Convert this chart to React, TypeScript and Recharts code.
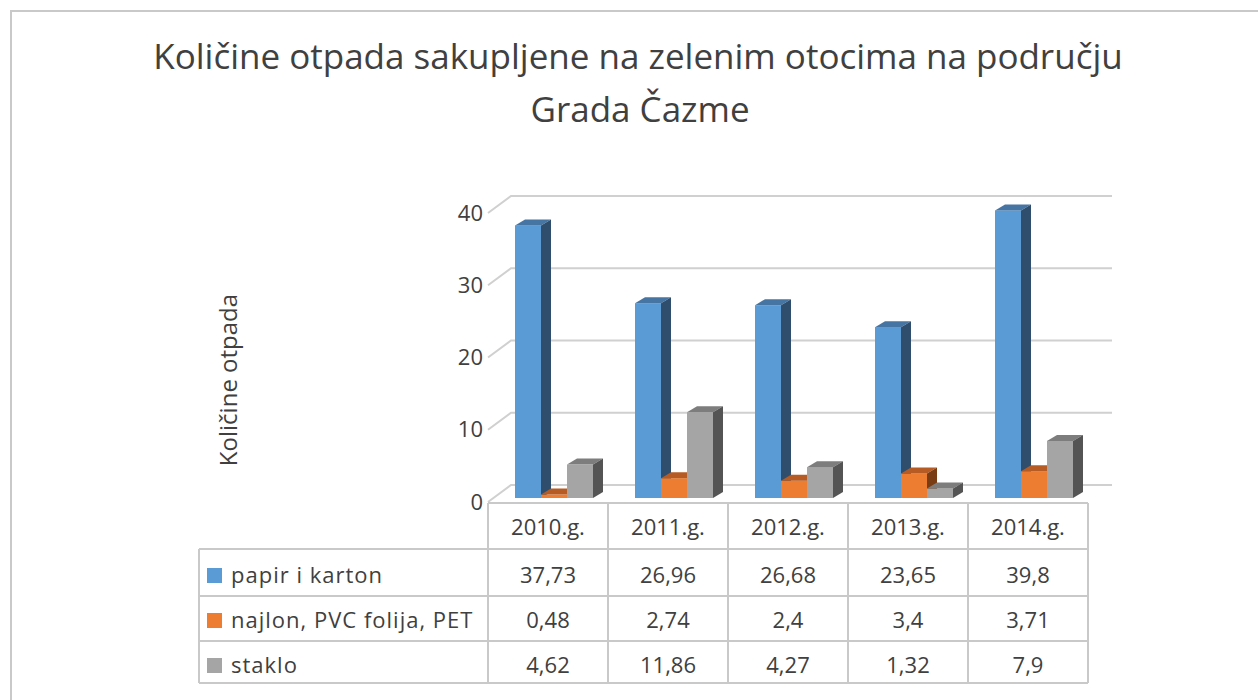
import { BarChart, Bar, XAxis, YAxis, CartesianGrid } from "recharts";

const categories = ["2010.g.", "2011.g.", "2012.g.", "2013.g.", "2014.g."];
const papir = [37.73, 26.96, 26.68, 23.65, 39.8];
const najlon = [0.48, 2.74, 2.4, 3.4, 3.71];
const staklo = [4.62, 11.86, 4.27, 1.32, 7.9];
const seriesNames = ["papir i karton", "najlon, PVC folija, PET", "staklo"];
const yTicks = [0, 10, 20, 30, 40];

const seriesValues = [papir, najlon, staklo];
const seriesKeys = ["papir", "najlon", "staklo"];
const colors = [
  { front: "#5b9bd5", top: "#4675a3", side: "#2f4e6d" },
  { front: "#ed7d31", top: "#b65b23", side: "#7a3c12" },
  { front: "#a5a5a5", top: "#7d7d7d", side: "#545454" },
];

const data = categories.map((c, i) => ({
  name: c,
  papir: papir[i],
  najlon: najlon[i],
  staklo: staklo[i],
}));

const FONT = "'Open Sans', sans-serif";
const TEXT = "#404040";
const LINE = "#c9c9c9";

// table geometry (Excel data table under the plot)
const ROW_LINES = [503, 549, 596, 641, 683];
const ROW_BASE = [535, 583, 628, 673];
const TABLE_LEFT = 199;
const COL_W = 120;

const fmt = (v: number) => String(v).replace(".", ",");

function make3D(c: { front: string; top: string; side: string }) {
  return (props: any) => {
    const { x, y, width, height } = props;
    if (height == null || width == null) return <g />;
    const fx = x + 6;
    const fy = y - 4;
    const dx = 10;
    const dy = 6;
    const h = Math.max(height, 0);
    return (
      <g>
        <rect x={fx} y={fy} width={width} height={h} fill={c.front} />
        <polygon
          points={`${fx},${fy} ${fx + dx},${fy - dy} ${fx + width + dx},${fy - dy} ${fx + width},${fy}`}
          fill={c.top}
        />
        <polygon
          points={`${fx + width},${fy} ${fx + width + dx},${fy - dy} ${fx + width + dx},${fy + h - dy} ${fx + width},${fy + h}`}
          fill={c.side}
        />
      </g>
    );
  };
}

function gridLine(props: any) {
  const { x1, y1, x2 } = props;
  return (
    <path
      key={`g-${y1}`}
      d={`M${x1},${y1} L${x1 + 23},${y1 - 17} L${x2 + 24},${y1 - 17}`}
      stroke="#d0d0d0"
      strokeWidth={2}
      fill="none"
    />
  );
}

function YTick(props: any) {
  const { y, payload } = props;
  return (
    <text x={483} y={y} dy="0.35em" textAnchor="end" fill={TEXT} fontSize={22} fontFamily={FONT}>
      {payload.value}
    </text>
  );
}

function TableColumn(props: any) {
  const { x, payload, index } = props;
  const left = x - COL_W / 2;
  const right = x + COL_W / 2;
  return (
    <g>
      {index === 0 && (
        <g>
          <line x1={left} y1={ROW_LINES[0]} x2={1088} y2={ROW_LINES[0]} stroke={LINE} strokeWidth={2} />
          <line x1={TABLE_LEFT} y1={ROW_LINES[1]} x2={TABLE_LEFT} y2={ROW_LINES[4]} stroke={LINE} strokeWidth={2} />
          {[1, 2, 3, 4].map((r) => (
            <line key={r} x1={TABLE_LEFT} y1={ROW_LINES[r]} x2={left} y2={ROW_LINES[r]} stroke={LINE} strokeWidth={2} />
          ))}
          {seriesNames.map((n, s) => (
            <g key={n}>
              <rect x={207} y={ROW_BASE[s + 1] - 15} width={15} height={15} fill={colors[s].front} />
              <text x={231} y={ROW_BASE[s + 1]} fill={TEXT} fontSize={22} fontFamily={FONT} letterSpacing={1}>
                {n}
              </text>
            </g>
          ))}
        </g>
      )}
      <line x1={left} y1={ROW_LINES[0]} x2={left} y2={ROW_LINES[4]} stroke={LINE} strokeWidth={2} />
      <line x1={right} y1={ROW_LINES[0]} x2={right} y2={ROW_LINES[4]} stroke={LINE} strokeWidth={2} />
      {[1, 2, 3, 4].map((r) => (
        <line key={r} x1={left} y1={ROW_LINES[r]} x2={right} y2={ROW_LINES[r]} stroke={LINE} strokeWidth={2} />
      ))}
      <text x={x} y={ROW_BASE[0]} textAnchor="middle" fill={TEXT} fontSize={22} fontFamily={FONT}>
        {payload.value}
      </text>
      {seriesValues.map((vals, s) => (
        <text key={s} x={x} y={ROW_BASE[s + 1]} textAnchor="middle" fill={TEXT} fontSize={22} fontFamily={FONT}>
          {fmt(vals[index])}
        </text>
      ))}
    </g>
  );
}

export default function App() {
  return (
    <div style={{ position: "absolute", left: 0, top: 0, width: 1258, height: 700, overflow: "hidden", background: "#fff" }}>
      <div
        style={{
          position: "absolute",
          left: 10,
          top: 10,
          width: 1300,
          height: 760,
          border: "2px solid #c9c9c9",
        }}
      />
      <svg width={1258} height={140} style={{ position: "absolute", left: 0, top: 0 }}>
        <text x={638} y={69} textAnchor="middle" fill={TEXT} fontSize={35} fontFamily={FONT}>
          Količine otpada sakupljene na zelenim otocima na području
        </text>
        <text x={640} y={122} textAnchor="middle" fill={TEXT} fontSize={35} fontFamily={FONT}>
          Grada Čazme
        </text>
      </svg>
      <div style={{ position: "absolute", left: 0, top: 0 }}>
        <BarChart
          width={1258}
          height={700}
          data={data}
          margin={{ top: 213, right: 170, bottom: 168, left: 428 }}
          barCategoryGap={21}
          barGap={0}
        >
          <CartesianGrid vertical={false} horizontal={gridLine} />
          <XAxis
            dataKey="name"
            height={30}
            axisLine={false}
            tickLine={false}
            interval={0}
            tick={TableColumn}
          />
          <YAxis
            width={60}
            domain={[0, 40]}
            ticks={yTicks}
            axisLine={false}
            tickLine={false}
            tick={YTick}
            label={{
              content: () => (
                <text
                  x={237}
                  y={380}
                  transform="rotate(-90, 237, 380)"
                  textAnchor="middle"
                  fill={TEXT}
                  fontSize={24}
                  fontFamily={FONT}
                >
                  Količine otpada
                </text>
              ),
            }}
          />
          {seriesKeys.map((k, s) => (
            <Bar
              key={k}
              dataKey={k}
              name={seriesNames[s]}
              fill={colors[s].front}
              shape={make3D(colors[s])}
              isAnimationActive={false}
            />
          ))}
        </BarChart>
      </div>
    </div>
  );
}
